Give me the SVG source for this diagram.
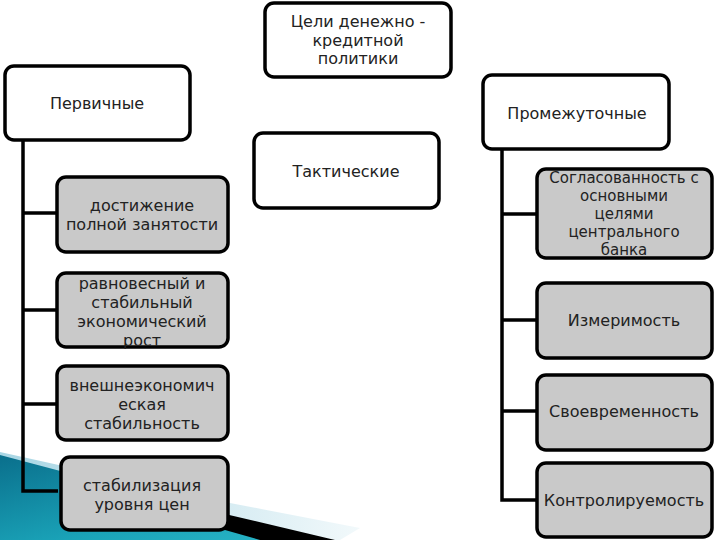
<svg xmlns="http://www.w3.org/2000/svg" width="720" height="540" viewBox="0 0 720 540">
<defs>
<linearGradient id="teal" x1="0" y1="0" x2="1" y2="1">
<stop offset="0" stop-color="#0a6f8c"/>
<stop offset="0.6" stop-color="#1aa3b8"/>
<stop offset="1" stop-color="#2bb7c8"/>
</linearGradient>
<linearGradient id="pale" x1="0" y1="0" x2="1" y2="0">
<stop offset="0" stop-color="#a8d6e4"/>
<stop offset="1" stop-color="#f2f9fb"/>
</linearGradient>
<style>
.w{fill:#ffffff;stroke:#000;stroke-width:3.5}
.g{fill:#c9c9c9;stroke:#000;stroke-width:3.5}
.t{font-family:"DejaVu Sans","Liberation Sans",sans-serif;font-size:16px;fill:#222;text-anchor:middle}
.s{font-size:15px}
.c{fill:none;stroke:#000;stroke-width:3.5}
</style>
</defs>
<rect width="720" height="540" fill="#fff"/>
<g id="decor">
<polygon points="0,452 230,503 360,528 340,540 0,540" fill="url(#pale)"/>
<polygon points="0,455 230,516 330,540 0,540" fill="url(#teal)"/>
<polygon points="225,514 335,540 260,540 225,530" fill="#000"/>
</g>
<g id="connectors">
<polyline class="c" points="23,140 23,491 58,491"/>
<line class="c" x1="23" y1="213" x2="58" y2="213"/>
<line class="c" x1="23" y1="310" x2="58" y2="310"/>
<line class="c" x1="23" y1="404" x2="58" y2="404"/>
<polyline class="c" points="502,149 502,500 538,500"/>
<line class="c" x1="502" y1="214" x2="538" y2="214"/>
<line class="c" x1="502" y1="320" x2="538" y2="320"/>
<line class="c" x1="502" y1="411" x2="538" y2="411"/>
</g>
<g id="root">
<rect class="w" x="265" y="3" width="186" height="74" rx="9"/>
<text class="t" x="358" y="27">Цели денежно -</text>
<text class="t" x="358" y="46">кредитной</text>
<text class="t" x="358" y="64">политики</text>
</g>
<g id="primary">
<rect class="w" x="5" y="66" width="185" height="74" rx="9"/>
<text class="t" x="97" y="109">Первичные</text>
</g>
<g id="tactical">
<rect class="w" x="254" y="133" width="185" height="75" rx="9"/>
<text class="t" x="346" y="177">Тактические</text>
</g>
<g id="intermediate">
<rect class="w" x="483" y="75" width="186" height="74" rx="9"/>
<text class="t" x="577" y="119">Промежуточные</text>
</g>
<g id="p1">
<rect class="g" x="57" y="177" width="171" height="75" rx="9"/>
<text class="t" x="142" y="211">достижение</text>
<text class="t" x="142" y="230">полной занятости</text>
</g>
<g id="p2">
<rect class="g" x="57" y="273" width="171" height="74" rx="9"/>
<text class="t" x="142" y="289">равновесный и</text>
<text class="t" x="142" y="308">стабильный</text>
<text class="t" x="142" y="327">экономический</text>
<text class="t" x="142" y="346">рост</text>
</g>
<g id="p3">
<rect class="g" x="57" y="366" width="171" height="74" rx="9"/>
<text class="t" x="142" y="391">внешнеэкономич</text>
<text class="t" x="142" y="410">еская</text>
<text class="t" x="142" y="429">стабильность</text>
</g>
<g id="p4">
<rect class="g" x="61" y="457" width="167" height="73" rx="9"/>
<text class="t" x="142" y="491">стабилизация</text>
<text class="t" x="142" y="510">уровня цен</text>
</g>
<g id="i1">
<rect class="g" x="537" y="169" width="175" height="89" rx="9"/>
<text class="t s" x="624" y="183">Согласованность с</text>
<text class="t s" x="624" y="201">основными</text>
<text class="t s" x="624" y="219">целями</text>
<text class="t s" x="624" y="237">центрального</text>
<text class="t s" x="624" y="255">банка</text>
</g>
<g id="i2">
<rect class="g" x="537" y="283" width="175" height="75" rx="9"/>
<text class="t" x="624" y="326">Измеримость</text>
</g>
<g id="i3">
<rect class="g" x="537" y="375" width="175" height="75" rx="9"/>
<text class="t" x="624" y="417">Своевременность</text>
</g>
<g id="i4">
<rect class="g" x="537" y="463" width="175" height="74" rx="9"/>
<text class="t" x="624" y="506">Контролируемость</text>
</g>
</svg>
